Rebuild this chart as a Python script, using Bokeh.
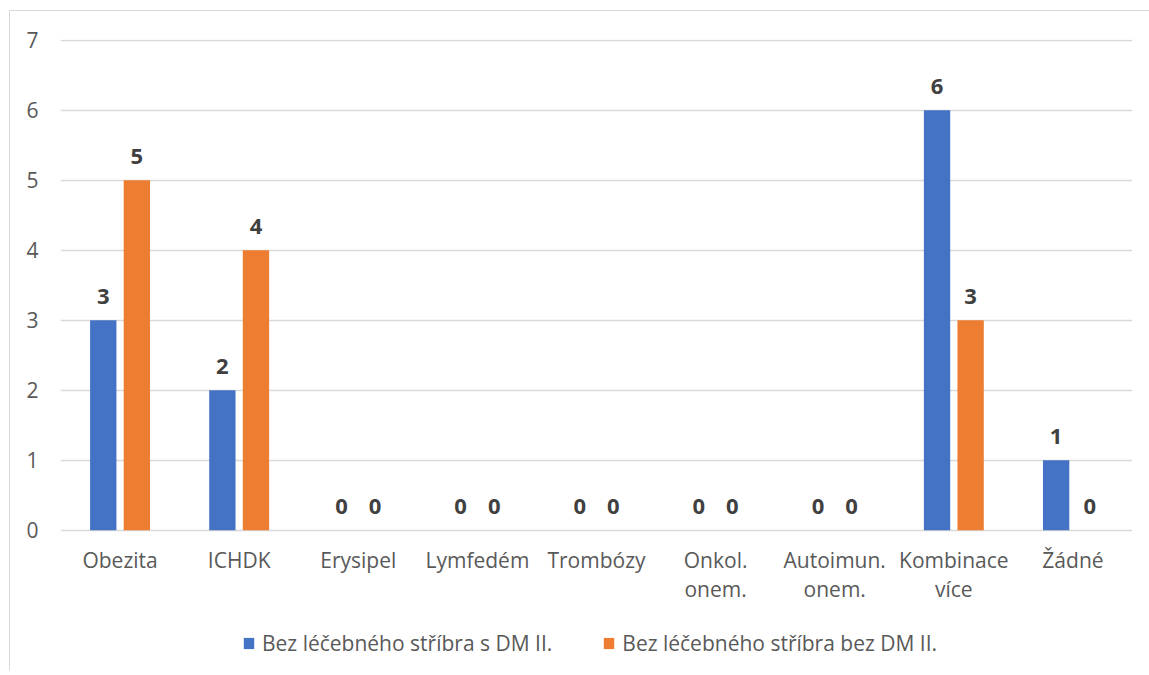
from bokeh.plotting import figure
from bokeh.models import ColumnDataSource, Range1d, Legend, LegendItem, FixedTicker
from bokeh.transform import dodge
from bokeh.core.properties import value
from bokeh.embed import file_html
from bokeh.resources import INLINE

# Data
categories = ["Obezita", "ICHDK", "Erysipel", "Lymfedém", "Trombózy",
              "Onkol.\nonem.", "Autoimun.\nonem.", "Kombinace\nvíce", "Žádné"]
s_dm = [3, 2, 0, 0, 0, 0, 0, 6, 1]
bez_dm = [5, 4, 0, 0, 0, 0, 0, 3, 0]
series_names = ["Bez léčebného stříbra s DM II.", "Bez léčebného stříbra bez DM II."]
y_ticks = [0, 1, 2, 3, 4, 5, 6, 7]

BLUE = "#4472C4"
ORANGE = "#ED7D31"
FONT = "Open Sans"
TEXT_GRAY = "#595959"

# frame geometry: 70 px per unit, frame reaches below zero to hold category labels and legend
PX_PER_UNIT = 70
FRAME_H = 626
Y_TOP = 7.01
Y_BOTTOM = Y_TOP - FRAME_H / PX_PER_UNIT

source = ColumnDataSource(dict(
    cat=categories,
    a=s_dm,
    b=bez_dm,
    a_txt=[str(v) for v in s_dm],
    b_txt=[str(v) for v in bez_dm],
))

parts = [c.split("\n") for c in categories]
label_src = ColumnDataSource(dict(
    cat=categories,
    line1=[pp[0] for pp in parts],
    line2=[pp[1] if len(pp) > 1 else "" for pp in parts],
    y1=[-0.42] * len(categories),
    y2=[-0.84] * len(categories),
))

p = figure(
    x_range=categories,
    y_range=Range1d(Y_BOTTOM, Y_TOP),
    frame_width=1072,
    frame_height=FRAME_H,
    min_border_left=50,
    min_border_right=17,
    min_border_top=28,
    min_border_bottom=5,
    output_backend="svg",
    toolbar_location=None,
    background_fill_color="white",
    border_fill_color="white",
)
p.outline_line_color = None
p.styles = {
    "margin-left": "9px",
    "margin-top": "10px",
    "border-left": "1px solid #d9d9d9",
    "border-top": "1px solid #d9d9d9",
}

off = 0.141
w = 0.221
r1 = p.vbar(x=dodge("cat", -off, range=p.x_range), top="a", width=w, source=source,
            fill_color=BLUE, line_color=None)
r2 = p.vbar(x=dodge("cat", off, range=p.x_range), top="b", width=w, source=source,
            fill_color=ORANGE, line_color=None)

# value labels above each bar
for col, txt, dx in (("a", "a_txt", -off), ("b", "b_txt", off)):
    p.text(x=dodge("cat", dx, range=p.x_range), y=col, text=txt, source=source,
           text_align="center", text_baseline="alphabetic", y_offset=-24,
           text_font=value(FONT), text_font_style="bold",
           text_font_size="22px", text_color="#404040")

# category labels under the zero line, one row per text line
for ycol, tcol in (("y1", "line1"), ("y2", "line2")):
    p.text(x="cat", y=ycol, text=tcol, source=label_src,
           text_align="center", text_baseline="alphabetic",
           text_font=value(FONT), text_font_size="21px", text_color=TEXT_GRAY)

# axes
p.xaxis.visible = False
p.yaxis.ticker = FixedTicker(ticks=y_ticks)
p.yaxis.axis_line_color = None
p.yaxis.major_tick_line_color = None
p.yaxis.minor_tick_line_color = None
p.yaxis.major_label_standoff = 16
p.yaxis.major_label_text_font = FONT
p.yaxis.major_label_text_font_size = "21px"
p.yaxis.major_label_text_color = TEXT_GRAY

p.xgrid.grid_line_color = None
p.ygrid.ticker = FixedTicker(ticks=y_ticks)
p.ygrid.grid_line_color = "#d9d9d9"
p.ygrid.grid_line_width = 1.5

# legend at the bottom of the frame, located in screen units from the frame's lower-left
legend = Legend(
    items=[LegendItem(label=series_names[0], renderers=[r1]),
           LegendItem(label=series_names[1], renderers=[r2])],
    orientation="horizontal",
    location=(182, 8),
    glyph_width=13,
    glyph_height=14,
    label_standoff=7,
    spacing=50,
    label_text_font=FONT,
    label_text_font_size="21px",
    label_text_color=TEXT_GRAY,
    border_line_color=None,
    background_fill_alpha=0,
    margin=0,
    padding=0,
)
p.add_layout(legend, "center")

open("out.html", "w").write(file_html(p, INLINE))
